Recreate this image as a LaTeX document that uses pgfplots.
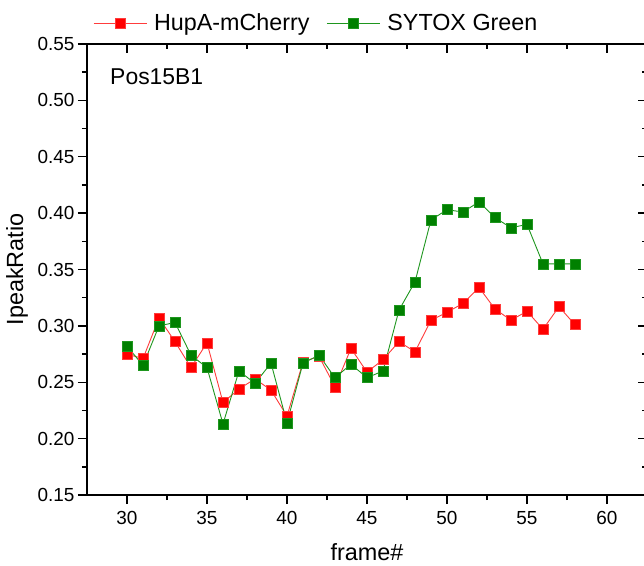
\documentclass[border=0pt]{standalone}
\usepackage{pgfplots}
\pgfplotsset{compat=1.18}
\usepackage{fontspec}
\setmainfont{Liberation Sans}
\definecolor{cred}{RGB}{255,0,0}
\definecolor{credl}{RGB}{255,60,60}
\definecolor{cgreen}{RGB}{0,128,0}
\definecolor{cgreenl}{RGB}{30,150,30}
\begin{document}
\begin{tikzpicture}
\pgfplotsset{
  common/.style={
    scale only axis, width=560bp, height=451bp,
    xmin=27.5, xmax=62.5, ymin=0.15, ymax=0.55,
    xtick={30,35,40,45,50,55,60},
    ytick={0.15,0.20,0.25,0.30,0.35,0.40,0.45,0.50,0.55},
    minor x tick num=1, minor y tick num=1,
    major tick length=9bp, minor tick length=5bp,
    axis line style={line width=1.4bp},
    every tick/.style={black, line width=1.4bp},
    /pgf/number format/assume math mode=true,
  }
}
\begin{axis}[common,
  xtick pos=bottom, ytick pos=left, tick align=outside,
  yticklabel style={/pgf/number format/fixed, /pgf/number format/fixed zerofill, /pgf/number format/precision=2, font=\fontsize{19}{22}\selectfont},
  xticklabel style={font=\fontsize{19}{22}\selectfont, yshift=-4bp},
  xlabel={frame\#}, ylabel={IpeakRatio},
  xlabel style={at={(axis description cs:0.5,-0.146)}, anchor=base, font=\fontsize{23.5}{27}\selectfont},
  ylabel style={at={(axis description cs:-0.125,0.5)}, anchor=center, rotate=0, font=\fontsize{23.5}{27}\selectfont},
  legend columns=2,
  legend style={at={(axis description cs:0.0107,1.046)}, anchor=west, draw=none, fill=none, inner sep=0pt,
    font=\fontsize{23.4}{27}\selectfont, column sep=0pt, nodes={inner sep=0pt},
    /tikz/every odd column/.append style={column sep=7bp},
    /tikz/every even column/.append style={column sep=17bp}},
  legend image code/.code={\draw[mark repeat=2,mark phase=2] plot coordinates {(0bp,0bp)(26.5bp,0bp)(53bp,0bp)};},
]
\addplot[color=credl, line width=0.9bp, mark=square*, mark size=5bp, mark options={fill=cred, draw=credl, line width=0.5bp}] coordinates {
(30,0.275)(31,0.271)(32,0.307)(33,0.286)(34,0.263)(35,0.285)(36,0.232)(37,0.244)(38,0.253)(39,0.243)
(40,0.220)(41,0.268)(42,0.273)(43,0.246)(44,0.280)(45,0.259)(46,0.270)(47,0.286)(48,0.277)(49,0.305)
(50,0.312)(51,0.320)(52,0.334)(53,0.315)(54,0.305)(55,0.313)(56,0.297)(57,0.317)(58,0.301)};
\addlegendentry{HupA-mCherry}
\addplot[color=cgreenl, line width=0.9bp, mark=square*, mark size=5bp, mark options={fill=cgreen, draw=cgreenl, line width=0.5bp}] coordinates {
(30,0.282)(31,0.265)(32,0.300)(33,0.303)(34,0.274)(35,0.263)(36,0.213)(37,0.260)(38,0.249)(39,0.267)
(40,0.214)(41,0.267)(42,0.274)(43,0.254)(44,0.266)(45,0.254)(46,0.260)(47,0.314)(48,0.339)(49,0.394)
(50,0.403)(51,0.401)(52,0.410)(53,0.396)(54,0.387)(55,0.390)(56,0.355)(57,0.355)(58,0.355)};
\addlegendentry{SYTOX Green}
\node[anchor=base west, font=\fontsize{23}{27}\selectfont, inner sep=0pt] at (axis cs:28.94,0.5137) {Pos15B1};
\end{axis}
\begin{axis}[common,
  xtick pos=top, ytick pos=right, tick align=inside,
  xticklabels={}, yticklabels={},
]
\end{axis}
\pgfresetboundingbox
\useasboundingbox (-87bp,-71bp) rectangle (557bp,495bp);
\end{tikzpicture}
\end{document}
